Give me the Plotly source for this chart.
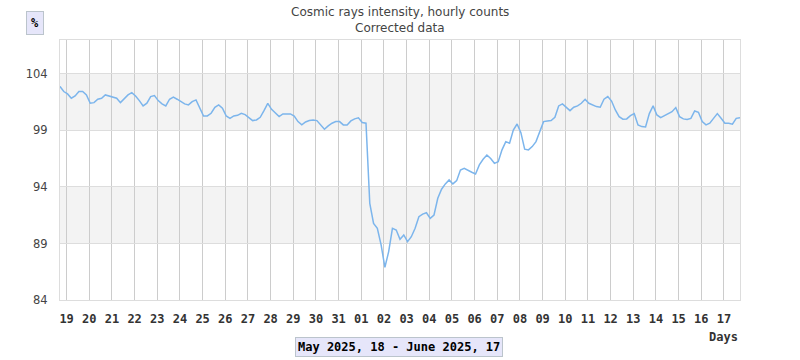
import pandas as pd
import plotly.graph_objects as go

# ---- data ----
START = "2025-05-18 17:00"
STEP = "4h"
VALUES = [
    102.9, 102.44, 102.23, 101.85, 102.05, 102.44, 102.44, 102.14, 101.41, 101.46,
    101.76, 101.85, 102.14, 102.05, 101.94, 101.85, 101.46, 101.85, 102.14, 102.35,
    102.05, 101.64, 101.17, 101.41, 101.99, 102.08, 101.64, 101.35, 101.17, 101.76,
    101.94, 101.76, 101.52, 101.35, 101.26, 101.55, 101.7, 100.96, 100.28, 100.28,
    100.52, 101.05, 101.26, 100.96, 100.28, 100.07, 100.28, 100.34, 100.52, 100.4,
    100.16, 99.87, 99.93, 100.16, 100.75, 101.4, 100.87, 100.52, 100.22, 100.46,
    100.46, 100.46, 100.28, 99.78, 99.49, 99.75, 99.87, 99.93, 99.87, 99.49,
    99.1, 99.4, 99.64, 99.78, 99.78, 99.49, 99.49, 99.84, 100.02, 100.11,
    99.7, 99.64, 92.55, 90.78, 90.34, 88.87, 86.89, 88.28, 90.34, 90.19,
    89.37, 89.75, 89.16, 89.6, 90.34, 91.37, 91.6, 91.72, 91.22, 91.52,
    93.0, 93.8, 94.27, 94.62, 94.27, 94.56, 95.5, 95.65, 95.45, 95.3,
    95.15, 95.95, 96.45, 96.83, 96.51, 96.09, 96.24, 97.28, 98.01, 97.87,
    99.04, 99.57, 98.8, 97.34, 97.28, 97.57, 98.01, 98.89, 99.78, 99.84,
    99.87, 100.16, 101.17, 101.35, 101.05, 100.75, 101.05, 101.17, 101.4, 101.76,
    101.4, 101.26, 101.11, 101.05, 101.76, 102.0, 101.6, 100.81, 100.22, 99.99,
    100.02, 100.31, 100.49, 99.49, 99.34, 99.31, 100.49, 101.17, 100.37, 100.13,
    100.31, 100.52, 100.66, 101.02, 100.22, 100.02, 99.96, 100.07, 100.72, 100.61,
    99.78, 99.49, 99.64, 100.07, 100.49, 100.07, 99.64, 99.64, 99.55, 100.07,
    100.13,
]
X_RANGE = ["2025-05-18 17:00", "2025-06-17 17:00"]
TICK_DATES = pd.date_range("2025-05-19", "2025-06-17", freq="D")
TICK_LABELS = ["19", "20", "21", "22", "23", "24", "25", "26", "27", "28", "29",
               "30", "31", "01", "02", "03", "04", "05", "06", "07", "08", "09",
               "10", "11", "12", "13", "14", "15", "16", "17"]
Y_RANGE = [84, 107]
Y_TICKS = [84, 89, 94, 99, 104]
BANDS = [(89, 94), (99, 104)]
TITLE_1 = "Cosmic rays intensity, hourly counts"
TITLE_2 = "Corrected data"
UNIT = "%"
X_NAME = "Days"
PERIOD = "May 2025, 18 - June 2025, 17"

times = pd.date_range(START, periods=len(VALUES), freq=STEP)

MONO = "DejaVu Sans Mono"
SANS = "DejaVu Sans"

fig = go.Figure()
fig.add_trace(go.Scatter(
    x=times, y=VALUES, mode="lines",
    line=dict(color="#7cb5ec", width=1.5),
    hoverinfo="skip", showlegend=False,
))

for lo, hi in BANDS:
    fig.add_shape(type="rect", xref="paper", x0=0, x1=1, yref="y", y0=lo, y1=hi,
                  fillcolor="#f3f3f3", line=dict(width=0), layer="below")

fig.update_layout(
    width=800, height=360,
    margin=dict(l=60, r=60, t=40, b=60),
    paper_bgcolor="white", plot_bgcolor="white",
    xaxis=dict(
        type="date", range=X_RANGE,
        tickmode="array", tickvals=TICK_DATES, ticktext=TICK_LABELS,
        showgrid=True, gridcolor="#cccccc", gridwidth=1,
        showline=True, linecolor="#dddddd", mirror=True,
        ticks="outside", ticklen=8, tickcolor="rgba(0,0,0,0)",
        tickfont=dict(family=MONO, size=12, color="#333333", weight="bold"),
        zeroline=False,
    ),
    yaxis=dict(
        range=Y_RANGE, tickmode="array", tickvals=Y_TICKS,
        showgrid=True, gridcolor="#dddddd", gridwidth=1,
        showline=True, linecolor="#dddddd", mirror=True,
        ticks="outside", ticklen=9, tickcolor="rgba(0,0,0,0)",
        tickfont=dict(family=SANS, size=11.5, color="#444444"),
        zeroline=False,
    ),
    annotations=[
        dict(text=TITLE_1, xref="paper", yref="paper", x=0.5, y=(300 - 12) / 260,
             xanchor="center", yanchor="middle", showarrow=False,
             font=dict(family=SANS, size=12, color="#444444")),
        dict(text=TITLE_2, xref="paper", yref="paper", x=0.5, y=(300 - 28) / 260,
             xanchor="center", yanchor="middle", showarrow=False,
             font=dict(family=SANS, size=12, color="#444444")),
        dict(text=UNIT, xref="paper", yref="paper", x=(34.7 - 60) / 680,
             y=(300 - 23) / 260, xanchor="center", yanchor="middle", showarrow=False,
             bgcolor="#e6e6fa", bordercolor="#bbc4cc", borderwidth=1, borderpad=4,
             font=dict(family=MONO, size=12, color="#000000", weight="bold")),
        dict(text=X_NAME, xref="paper", yref="paper", x=1.0, y=(300 - 337) / 260,
             xanchor="right", yanchor="middle", showarrow=False,
             font=dict(family=MONO, size=12, color="#333333", weight="bold")),
        dict(text=PERIOD, xref="paper", yref="paper", x=(398.7 - 60) / 680,
             y=(300 - 347) / 260, xanchor="center", yanchor="middle", showarrow=False,
             bgcolor="#e6e6fa", bordercolor="#bbc4cc", borderwidth=1, borderpad=2,
             font=dict(family=MONO, size=12, color="#000000", weight="bold")),
    ],
)

fig.write_html(
    "out.html",
    config={"displayModeBar": False},
    post_script="document.body.style.margin='0';document.body.style.padding='0';",
)
